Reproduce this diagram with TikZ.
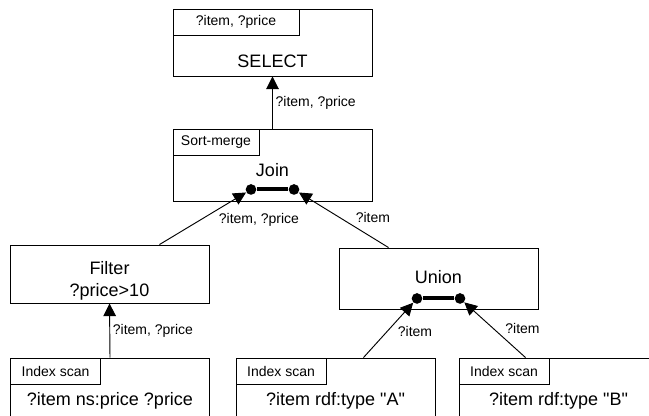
\documentclass[tikz,border=0pt]{standalone}
\usepackage{fontspec}
\setmainfont{Liberation Sans}[Ligatures=TeXOff]
\usetikzlibrary{calc,arrows.meta}
\newcommand{\bigtxt}{\fontsize{13.5}{16}\selectfont}
\newcommand{\smalltxt}{\fontsize{10.5}{12.6}\selectfont}
\begin{document}
\begin{tikzpicture}[x=0.75pt,y=-0.75pt,line width=0.7pt,>={Triangle[length=9.5pt,width=9.5pt]},
	op/.style={draw,minimum width=149.25pt,inner sep=0pt},
	head/.style={draw,anchor=north west,minimum height=20pt,inner sep=0pt,font=\smalltxt},
	txt/.style={anchor=base,inner sep=0pt,font=\bigtxt},
	lbl/.style={font=\smalltxt,inner sep=2pt},
	dot/.style={circle,fill,inner sep=0pt,minimum size=8pt},
	bar/.style={line width=3pt}]
	\useasboundingbox (0,0) rectangle (649,415);
	\clip (0,0) rectangle (649,415);
	% operator boxes
	\node[op,minimum height=50.25pt] (sel) at (272.5,42.5) {};
	\node[op,minimum height=54pt] (join) at (272.5,165) {};
	\node[op,minimum height=43.5pt] (filter) at (109.5,274) {};
	\node[op,minimum height=45.75pt] (union) at (438.5,278.5) {};
	\foreach \n/\x/\t in {idx1/110/{?item ns:price ?price},idx2/335.5/{?item rdf:type "A"},idx3/558.5/{?item rdf:type "B"}}{
		\node[op,minimum height=54pt] (\n) at (\x,394) {};
		\node[head,minimum width=67.5pt] (\n h) at (\n.north west) {Index scan};
		\node[txt] (\n t) at ($(\n.north)+(0,48)$) {\t};
	}
	% headers and texts
	\node[head,minimum width=94.5pt] (selh) at (sel.north west) {?item, ?price};
	\node[head,minimum width=64.5pt] (joinh) at (join.north west) {Sort-merge};
	\node[txt] (selt) at ($(sel.south)+(0,-9)$) {SELECT};
	\node[txt] (joint) at ($(join.south)+(0,-25)$) {Join};
	\node[txt] (filtert) at ($(filter.south)+(0,-29)$) {Filter};
	\node[txt] (filtert2) at ($(filter.south)+(0,-7)$) {?price>10};
	\node[txt] (uniont) at ($(union.south)+(0,-26)$) {Union};
	% merge bars
	\node[dot] (jl) at ($(join.south)+(-21.5,-12)$) {};
	\node[dot] (jr) at ($(join.south)+(21.5,-12)$) {};
	\node[dot] (ul) at ($(union.south)+(-21.5,-11)$) {};
	\node[dot] (ur) at ($(union.south)+(21.5,-11)$) {};
	\draw[bar] (jl) -- (jr);
	\draw[bar] (ul) -- (ur);
	% data flow
	\draw[->] (join.north) -- node[lbl,right,pos=.5]{?item, ?price} (sel.south);
	\draw[->] (idx1.north) -- node[lbl,right,pos=.5]{?item, ?price} (filter.south);
	\draw[->] ($(filter.north)!.5!(filter.north east)$) -- node[lbl,pos=.65,anchor=north west]{?item, ?price} (jl);
	\draw[->] ($(union.north)!.5!(union.north west)$) -- node[lbl,pos=.4,anchor=south west]{?item} (jr);
	\draw[->] ($(idx2.north)!.28!(idx2.north east)$) -- node[lbl,pos=.63,anchor=north west]{?item} (ul);
	\draw[->] ($(idx3.north)!.33!(idx3.north west)$) -- node[lbl,pos=.38,anchor=south west]{?item} (ur);
\end{tikzpicture}
\end{document}
